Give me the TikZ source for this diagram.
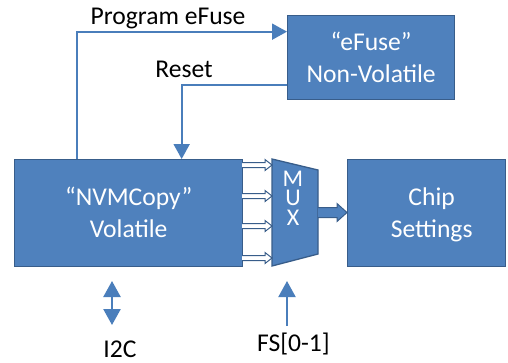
\documentclass[tikz,border=0pt]{standalone}
\usepackage{fontspec}
\setmainfont{Carlito}
\usetikzlibrary{arrows.meta}
\definecolor{boxfill}{HTML}{4F81BD}
\definecolor{boxline}{HTML}{385D8A}
\definecolor{wire}{HTML}{4A7EBB}
\begin{document}
\begin{tikzpicture}[x=1bp,y=-1bp,
  txt/.style={font=\fontsize{25.6bp}{32bp}\selectfont, inner sep=0pt, anchor=base},
  blk/.style={draw=boxline, fill=boxfill, line width=1.3bp, inner sep=0pt, anchor=north west},
  blktxt/.style={text=white, font=\fontsize{25.6bp}{32bp}\selectfont, inner sep=0pt, anchor=base, align=center},
  wire/.style={draw=wire, line width=2bp, -{Triangle[length=15bp,width=16bp]}},
  bus/.style={draw=boxline, fill=white, line width=1bp},
  fat/.style={draw=boxline, fill=boxfill, line width=1bp},
  muxtxt/.style={text=white, font=\fontsize{24bp}{19.5bp}\selectfont, inner sep=0pt, anchor=base, align=center}
]
\useasboundingbox (0,0) rectangle (508,362);

\node[blk, minimum width=228bp, minimum height=107bp] (nvm) at (14,159) {};
\node[blk, minimum width=167bp, minimum height=84bp] (efuse) at (287,15) {};
\node[blk, minimum width=158bp, minimum height=107bp] (chip) at (347,159) {};

\node[blktxt] (tnvm) at ([yshift=-24.5bp]nvm.center) {“NVMCopy”\\Volatile};
\node[blktxt] (tefuse) at ([yshift=-24.5bp]efuse.center) {“eFuse”\\Non-Volatile};
\node[blktxt] (tchip) at ([xshift=5bp,yshift=-24.5bp]chip.center) {Chip\\Settings};

% MUX trapezoid
\coordinate (mtl) at (272,159);
\coordinate (mtr) at (318,170);
\coordinate (mbr) at (318,254);
\coordinate (mbl) at (272,266);
\filldraw[draw=boxline, fill=boxfill, line width=1.3bp] (mtl) -- (mtr) -- (mbr) -- (mbl) -- cycle;
\node[muxtxt] (mux) at (293,225) {M\\U\\X};

% bus arrows NVMCopy -> MUX
\foreach \yy in {165,196,226,258} {
  \filldraw[bus] (242,\yy-2.5) -- (265,\yy-2.5) -- (265,\yy-5.5) -- (272,\yy)
     -- (265,\yy+5.5) -- (265,\yy+2.5) -- (242,\yy+2.5);
}

% MUX -> Chip Settings
\filldraw[fat] (318,207.5) -- (337,207.5) -- (337,203.5) -- (347,212.5)
   -- (337,221.5) -- (337,217.5) -- (318,217.5);

% Program eFuse / Reset
\draw[wire] ([xshift=-52bp]nvm.north) |- ([yshift=26bp]efuse.west);
\draw[wire] ([yshift=-27bp]efuse.west) -| ([xshift=53bp]nvm.north);
\node[txt] (lprog) at (168,24.8) {Program eFuse};
\node[txt] (lreset) at (184,77.7) {Reset};

% I2C
\coordinate (i2ca) at (112,281);
\coordinate (i2cb) at (112,325);
\draw[draw=wire, line width=2.4bp, {Triangle[length=16bp,width=17bp]}-{Triangle[length=16bp,width=17bp]}, fill=wire] (i2ca) -- (i2cb);
\node[txt] (li2c) at (120,357) {I2C};

% FS
\coordinate (fsa) at (287,326);
\coordinate (fsb) at (287,281);
\draw[draw=wire, line width=2bp, -{Triangle[length=16bp,width=17bp]}] (fsa) -- (fsb);
\node[txt] (lfs) at (293.5,351.5) {FS[0-1]};
\end{tikzpicture}
\end{document}
